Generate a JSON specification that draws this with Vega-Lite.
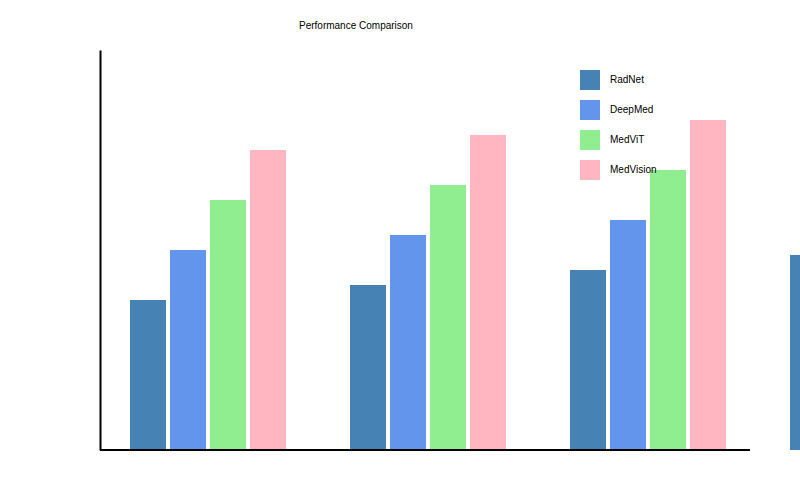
{
  "$schema": "https://vega.github.io/schema/vega-lite/v6.json",
  "width": 650,
  "height": 400,
  "autosize": {"type": "none"},
  "padding": {"left": 100, "top": 50, "right": 50, "bottom": 50},
  "title": {
    "text": "Performance Comparison",
    "anchor": "start",
    "dx": 200,
    "font": "Liberation Sans",
    "fontSize": 10,
    "fontWeight": "normal",
    "color": "#000000",
    "baseline": "alphabetic",
    "offset": 11
  },
  "data": {
    "values": [
      {"metric": "Accuracy", "model": "RadNet", "score": 37.5},
      {"metric": "Accuracy", "model": "DeepMed", "score": 50},
      {"metric": "Accuracy", "model": "MedViT", "score": 62.5},
      {"metric": "Accuracy", "model": "MedVision", "score": 75},
      {"metric": "Precision", "model": "RadNet", "score": 41.25},
      {"metric": "Precision", "model": "DeepMed", "score": 53.75},
      {"metric": "Precision", "model": "MedViT", "score": 66.25},
      {"metric": "Precision", "model": "MedVision", "score": 78.75},
      {"metric": "Recall", "model": "RadNet", "score": 45},
      {"metric": "Recall", "model": "DeepMed", "score": 57.5},
      {"metric": "Recall", "model": "MedViT", "score": 70},
      {"metric": "Recall", "model": "MedVision", "score": 82.5},
      {"metric": "F1-Score", "model": "RadNet", "score": 48.75},
      {"metric": "F1-Score", "model": "DeepMed", "score": 61.25},
      {"metric": "F1-Score", "model": "MedViT", "score": 73.75},
      {"metric": "F1-Score", "model": "MedVision", "score": 86.25}
    ]
  },
  "layer": [
    {
      "mark": {"type": "bar"},
      "encoding": {
        "x": {
          "field": "metric",
          "type": "nominal",
          "sort": null,
          "scale": {"range": [0, 876], "paddingInner": 0.2909, "paddingOuter": 0.1364},
          "axis": null
        },
        "xOffset": {
          "field": "model",
          "type": "nominal",
          "sort": ["RadNet", "DeepMed", "MedViT", "MedVision"],
          "scale": {"paddingInner": 0.1, "paddingOuter": 0}
        },
        "y": {
          "field": "score",
          "type": "quantitative",
          "scale": {"domain": [0, 100], "nice": false},
          "axis": {
            "domainColor": "#000000",
            "domainWidth": 2,
            "ticks": false,
            "labels": false,
            "grid": false,
            "title": null
          }
        },
        "color": {
          "field": "model",
          "type": "nominal",
          "scale": {
            "domain": ["RadNet", "DeepMed", "MedViT", "MedVision"],
            "range": ["#4682b4", "#6495ed", "#90ee90", "#ffb6c1"]
          },
          "legend": {
            "orient": "none",
            "legendX": 480,
            "legendY": 20,
            "title": null,
            "symbolType": "square",
            "symbolSize": 400,
            "symbolStrokeWidth": 0,
            "symbolOpacity": 1,
            "rowPadding": 10,
            "labelOffset": 10,
            "labelFont": "Liberation Sans",
            "labelFontSize": 10,
            "labelColor": "#000000",
            "padding": 0
          }
        }
      }
    },
    {
      "mark": {"type": "rule", "color": "#000000", "strokeWidth": 2},
      "encoding": {
        "y": {"datum": 0}
      }
    }
  ],
  "config": {
    "view": {"stroke": null},
    "background": "#ffffff"
  }
}
